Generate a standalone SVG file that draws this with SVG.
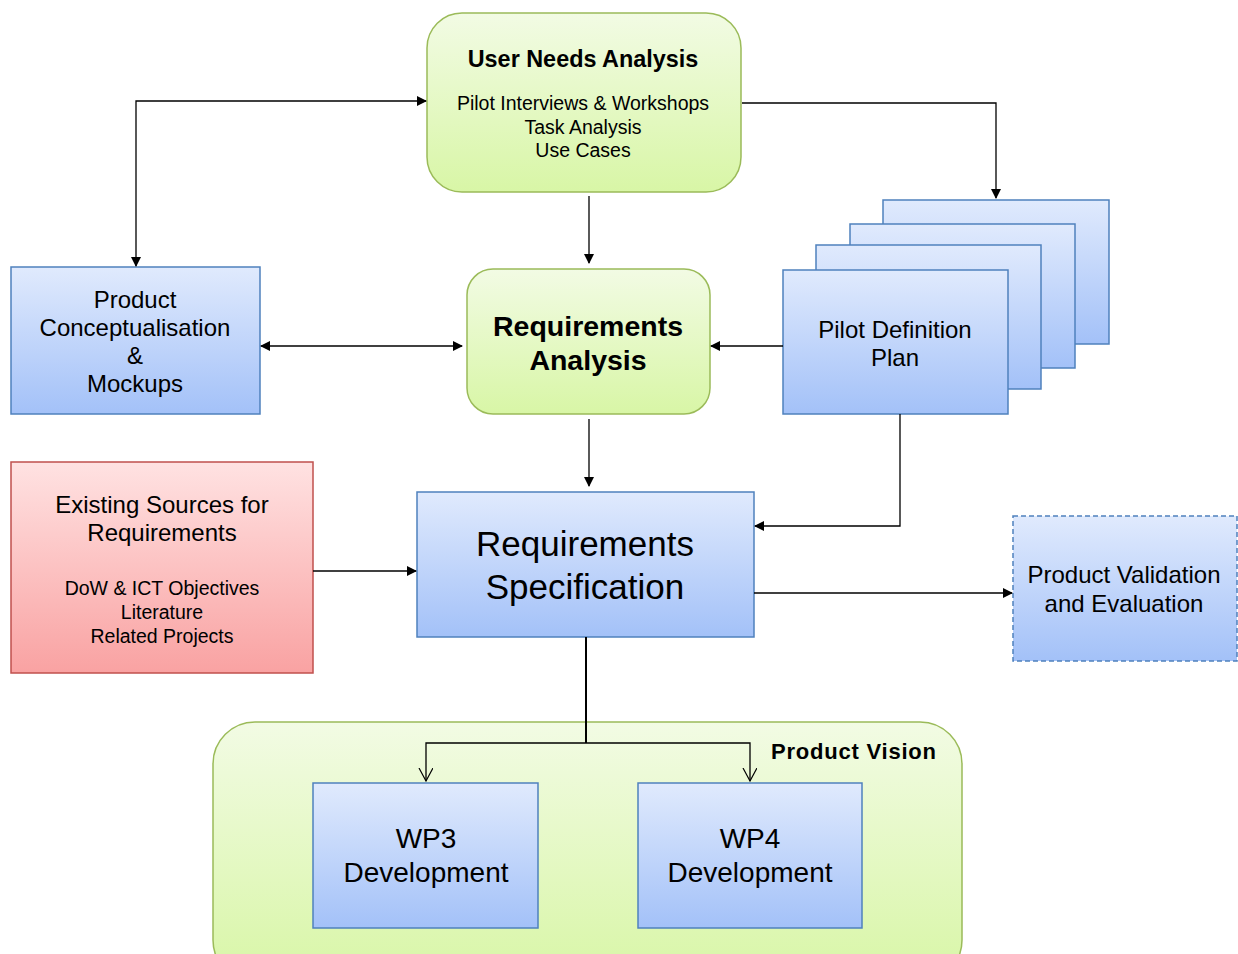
<svg xmlns="http://www.w3.org/2000/svg" width="1238" height="954" viewBox="0 0 1238 954">
<defs>
<linearGradient id="gGreen" x1="0" y1="0" x2="0" y2="1"><stop offset="0" stop-color="#f2fbe4"/><stop offset="1" stop-color="#d8f6a6"/></linearGradient>
<linearGradient id="gBlue" x1="0" y1="0" x2="0" y2="1"><stop offset="0" stop-color="#e0eafd"/><stop offset="1" stop-color="#a3c1f8"/></linearGradient>
<linearGradient id="gRed" x1="0" y1="0" x2="0" y2="1"><stop offset="0" stop-color="#ffe2e2"/><stop offset="1" stop-color="#f9a2a2"/></linearGradient>
<marker id="arr" markerWidth="10" markerHeight="10" refX="9" refY="5" orient="auto-start-reverse" markerUnits="userSpaceOnUse"><path d="M0,0 L10,5 L0,10 Z" fill="#000"/></marker>
<marker id="open" markerWidth="14" markerHeight="16" refX="13" refY="7" orient="auto" markerUnits="userSpaceOnUse"><path d="M0,0 L13,7 L0,14" fill="none" stroke="#000" stroke-width="1.2"/></marker>
</defs>
<style>
.green{fill:url(#gGreen);stroke:#9bbb59;stroke-width:1.5}
.blue{fill:url(#gBlue);stroke:#4f81bd;stroke-width:1.5}
.red{fill:url(#gRed);stroke:#c0504d;stroke-width:1.5}
.dash{stroke-dasharray:5,3}
text{font-family:"Liberation Sans",Arial,sans-serif;fill:#000;text-anchor:middle}
.b{font-weight:bold}
.t22{font-size:24px}
.t18{font-size:19.5px}
.conn path{fill:none;stroke:#000;stroke-width:1.3}
</style>
<g id="product-vision">
<rect x="213" y="722" width="749" height="260" rx="42" class="green"/>
<text x="771" y="759" class="b" font-size="22" style="text-anchor:start" textLength="165">Product Vision</text>
</g>
<g id="user-needs">
<rect x="427" y="13" width="314" height="179" rx="35" class="green"/>
<text x="583" y="67" class="b" font-size="23.4">User Needs Analysis</text>
<text x="583" y="110" class="t18">Pilot Interviews &amp; Workshops</text>
<text x="583" y="134" class="t18">Task Analysis</text>
<text x="583" y="157" class="t18">Use Cases</text>
</g>
<g id="req-analysis">
<rect x="467" y="269" width="243" height="145" rx="26" class="green"/>
<text x="588" y="336" class="b" font-size="28.5">Requirements</text>
<text x="588" y="370" class="b" font-size="28.5">Analysis</text>
</g>
<g id="product-concept">
<rect x="11" y="267" width="249" height="147" class="blue"/>
<text x="135" y="308" class="t22">Product</text>
<text x="135" y="336" class="t22">Conceptualisation</text>
<text x="135" y="364" class="t22">&amp;</text>
<text x="135" y="392" class="t22">Mockups</text>
</g>
<g id="pilot-plan">
<rect x="883" y="200" width="226" height="144" class="blue"/>
<rect x="850" y="224" width="225" height="144" class="blue"/>
<rect x="816" y="245" width="225" height="144" class="blue"/>
<rect x="783" y="270" width="225" height="144" class="blue"/>
<text x="895" y="338" class="t22">Pilot Definition</text>
<text x="895" y="366" class="t22">Plan</text>
</g>
<g id="req-spec">
<rect x="417" y="492" width="337" height="145" class="blue"/>
<text x="585" y="556" font-size="35">Requirements</text>
<text x="585" y="599" font-size="35">Specification</text>
</g>
<g id="existing-sources">
<rect x="11" y="462" width="302" height="211" class="red"/>
<text x="162" y="513" class="t22">Existing Sources for</text>
<text x="162" y="541" class="t22">Requirements</text>
<text x="162" y="595" class="t18">DoW &amp; ICT Objectives</text>
<text x="162" y="619" class="t18">Literature</text>
<text x="162" y="643" class="t18">Related Projects</text>
</g>
<g id="validation">
<rect x="1013" y="516" width="224" height="145" class="blue dash"/>
<text x="1124" y="583" class="t22">Product Validation</text>
<text x="1124" y="612" class="t22">and Evaluation</text>
</g>
<g id="wp3">
<rect x="313" y="783" width="225" height="145" class="blue"/>
<text x="426" y="848" font-size="28">WP3</text>
<text x="426" y="882" font-size="28">Development</text>
</g>
<g id="wp4">
<rect x="638" y="783" width="224" height="145" class="blue"/>
<text x="750" y="848" font-size="28">WP4</text>
<text x="750" y="882" font-size="28">Development</text>
</g>
<g id="connectors" class="conn">
<path d="M136,266 L136,101 L426,101" marker-start="url(#arr)" marker-end="url(#arr)"/>
<path d="M742,103 L996,103 L996,198" marker-end="url(#arr)"/>
<path d="M589,196 L589,263" marker-end="url(#arr)"/>
<path d="M261,346 L462,346" marker-start="url(#arr)" marker-end="url(#arr)"/>
<path d="M783,346 L711,346" marker-end="url(#arr)"/>
<path d="M589,419 L589,486" marker-end="url(#arr)"/>
<path d="M900,414 L900,526 L755,526" marker-end="url(#arr)"/>
<path d="M313,571 L416,571" marker-end="url(#arr)"/>
<path d="M754,593 L1012,593" marker-end="url(#arr)"/>
<path d="M586,637 L586,743" style="stroke-width:2"/>
<path d="M586,743 L426,743 L426,781" marker-end="url(#open)"/>
<path d="M586,743 L750,743 L750,781" marker-end="url(#open)"/>
</g>
</svg>
